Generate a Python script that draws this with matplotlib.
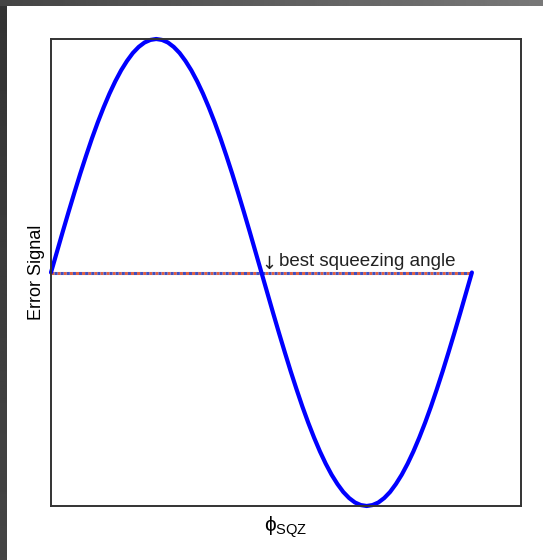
import matplotlib.pyplot as plt
import numpy as np

plt.rcParams['font.family'] = ['Liberation Sans', 'DejaVu Sans']
plt.rcParams['mathtext.fontset'] = 'custom'
plt.rcParams['mathtext.rm'] = 'Liberation Sans'
plt.rcParams['mathtext.it'] = 'Liberation Sans'

# squeezing phase (degrees) and measured error signal (normalised)
phase_deg = np.arange(0, 361, 5)
rising = [0.000, 0.087, 0.174, 0.259, 0.342, 0.423, 0.500, 0.574, 0.643, 0.707,
          0.766, 0.819, 0.866, 0.906, 0.940, 0.966, 0.985, 0.996, 1.000]
half = rising + rising[-2::-1]
error_signal = half + [-v for v in half[1:]]
best_angle = 180

fig = plt.figure(figsize=(5.43, 5.60), dpi=100)
fig.patch.set_facecolor('white')

# dark frame along top and left edges
top = fig.add_axes([0, 1 - 6 / 560, 1, 6 / 560])
top.imshow(np.linspace(0.27, 0.47, 256)[None, :], cmap='gray', vmin=0, vmax=1,
           aspect='auto', extent=[0, 1, 0, 1])
top.axis('off')
left = fig.add_axes([0, 0, 7 / 543, 1 - 6 / 560])
left.imshow(np.linspace(0.2, 0.27, 256)[:, None], cmap='gray', vmin=0, vmax=1,
            aspect='auto', extent=[0, 1, 0, 1])
left.axis('off')

ax = fig.add_axes([51 / 543, 1 - 506 / 560, 470 / 543, 467 / 560])
ax.plot(phase_deg, np.zeros(len(phase_deg)), color='#e06040', lw=2.2,
        linestyle=(0, (1, 1)))
ax.plot(phase_deg, np.zeros(len(phase_deg)), color='#4050c0', lw=2.2,
        linestyle=(1, (1, 1)))
ax.plot(phase_deg, error_signal, color='blue', lw=3, solid_capstyle='round',
        clip_on=False)

ax.text(best_angle, 0.0, '\u2193', fontsize=13, family='DejaVu Sans',
        ha='left', va='bottom', color='#222222')
ax.annotate('best squeezing angle', xy=(best_angle, 0.0), xytext=(12.5, 1.5),
            textcoords='offset points', fontsize=13.5, ha='left', va='bottom',
            color='#222222')

ax.set_xlim(0, 402)
ax.set_ylim(-1, 1)
ax.set_xticks([])
ax.set_yticks([])
for s in ax.spines.values():
    s.set_color('#333333')
    s.set_linewidth(1.4)

ax.set_xlabel(r'$\phi_{\mathrm{SQZ}}$', fontsize=15, labelpad=6)
ax.set_ylabel('Error Signal', fontsize=13, labelpad=4)

fig.savefig('out.png', dpi=100)
